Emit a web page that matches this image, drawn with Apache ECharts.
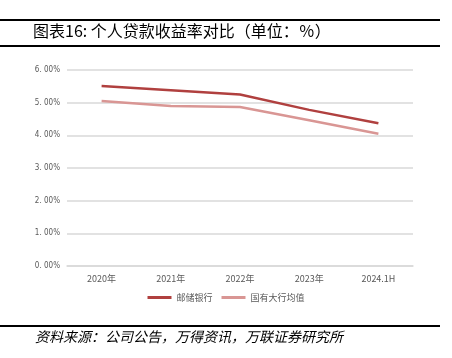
<!DOCTYPE html>
<html><head><meta charset="utf-8">
<script src="https://cdn.jsdelivr.net/npm/echarts@6/dist/echarts.min.js"></script>
<style>html,body{margin:0;padding:0;background:#fff}#c{width:452px;height:358px}</style>
</head><body><div id="c"></div>
<script>
const categories = ['2020年','2021年','2022年','2023年','2024.1H'];
const psbc = [5.51, 5.38, 5.25, 4.78, 4.37];
const bigBanksAvg = [5.05, 4.90, 4.87, 4.46, 4.05];
const seriesNames = ['邮储银行','国有大行均值'];
const titleText = '图表16: 个人贷款收益率对比（单位：％）';
const sourceText = '资料来源：公司公告，万得资讯，万联证券研究所';

const chart = echarts.init(document.getElementById('c'));
chart.setOption({
  animation:false,
  grid:{left:67,right:39,top:70,bottom:92},
  legend:{bottom:51,left:'center',itemWidth:24,itemHeight:3,itemGap:9,icon:'rect',
    textStyle:{fontSize:9,color:'#595959',fontFamily:'Noto Sans CJK SC'},
    data:seriesNames},
  xAxis:{type:'category',data:categories,boundaryGap:true,
    axisLine:{lineStyle:{color:'#D9D9D9',width:1.5}},axisTick:{show:false},
    axisLabel:{fontSize:9,color:'#595959',margin:8,fontFamily:'Noto Sans CJK SC'}},
  yAxis:{type:'value',min:0,max:6,interval:1,
    axisLine:{show:false},axisTick:{show:false},
    splitLine:{lineStyle:{color:'#D9D9D9',width:1.5}},
    axisLabel:{fontSize:8,color:'#595959',margin:7,fontFamily:'DejaVu Sans Condensed',
      formatter:v=>v.toFixed(2).replace('.', '. ')+'%'}},
  series:[
    {name:seriesNames[0],type:'line',data:psbc,symbol:'none',lineStyle:{color:'#B0403F',width:2.5},itemStyle:{color:'#B0403F'}},
    {name:seriesNames[1],type:'line',data:bigBanksAvg,symbol:'none',lineStyle:{color:'#D99694',width:2.5},itemStyle:{color:'#D99694'}}
  ],
  graphic:[
    {type:'rect',shape:{x:0,y:19,width:440,height:2},style:{fill:'#000'}},
    {type:'rect',shape:{x:0,y:45,width:440,height:2},style:{fill:'#000'}},
    {type:'rect',shape:{x:0,y:325,width:440,height:2},style:{fill:'#000'}},
    {type:'text',left:33,top:23,style:{text:titleText,fontSize:16,fill:'#000',fontFamily:'Noto Sans CJK SC'}},
    {type:'text',left:35,top:330,style:{text:sourceText,fontSize:14,fontStyle:'italic',fill:'#000',fontFamily:'Noto Sans CJK SC'}}
  ]
});
</script></body></html>
